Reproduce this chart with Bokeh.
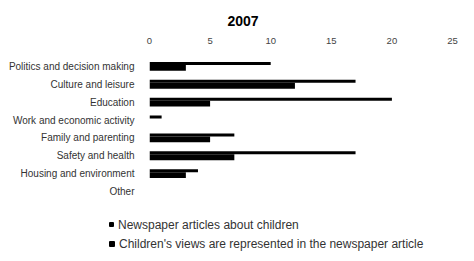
from bokeh.plotting import figure
from bokeh.models import FactorRange, Range1d, Title, Div
from bokeh.layouts import column
from bokeh.transform import dodge
from bokeh.embed import file_html
from bokeh.resources import INLINE

title_text = "2007"
categories = [
    "Politics and decision making",
    "Culture and leisure",
    "Education",
    "Work and economic activity",
    "Family and parenting",
    "Safety and health",
    "Housing and environment",
    "Other",
]
newspaper_articles = [10, 17, 20, 1, 7, 17, 4, 0]
children_views = [3, 12, 5, 0, 5, 7, 3, 0]
series_names = [
    "Newspaper articles about children",
    "Children's views are represented in the newspaper article",
]
x_ticks = [0, 5, 10, 15, 20, 25]

FONT = "Liberation Sans"
BAR = "#000000"
series_colors = [BAR, BAR]
marker_sizes = [5, 6]

src = dict(cat=categories, news=newspaper_articles, views=children_views)

# ---- main chart ----
p = figure(
    width=458, height=200,
    y_range=FactorRange(factors=list(reversed(categories)), range_padding=0),
    x_range=Range1d(0, 25),
    x_axis_location="above",
    output_backend="svg", toolbar_location=None,
    min_border_left=149, min_border_right=6,
    min_border_top=57, min_border_bottom=0,
)
p.title = None
t = Title(text=title_text, align="left", offset=78, standoff=17,
          text_font=FONT, text_font_size="14px", text_font_style="bold",
          text_color="#000000")
p.add_layout(t, "above")

p.hbar(y=dodge("cat", 0.166, range=p.y_range), right="news", left=0,
       height=0.166, fill_color=series_colors[0], line_color=None, source=src)
p.hbar(y=dodge("cat", -0.083, range=p.y_range), right="views", left=0,
       height=0.33, fill_color=series_colors[1], line_color=None, source=src)

p.xaxis.ticker = x_ticks
p.xaxis.axis_line_color = None
p.xaxis.major_tick_line_color = None
p.xaxis.minor_tick_line_color = None
p.xaxis.major_label_standoff = 8
p.xaxis.major_label_text_font = FONT
p.xaxis.major_label_text_font_size = "9.5px"
p.xaxis.major_label_text_color = "#444444"

p.yaxis.axis_line_color = None
p.yaxis.major_tick_line_color = None
p.yaxis.minor_tick_line_color = None
p.yaxis.major_label_standoff = 9
p.yaxis.major_label_text_font = FONT
p.yaxis.major_label_text_font_size = "10px"
p.yaxis.major_label_text_color = "#333333"

p.xgrid.grid_line_color = None
p.ygrid.grid_line_color = None
p.outline_line_color = None

# ---- legend below the chart ----
rows = []
for name, col, ms in zip(series_names, series_colors, marker_sizes):
    rows.append(
        '<div style="height:19px;line-height:19px;white-space:nowrap;">'
        f'<span style="display:inline-block;width:{ms}px;height:{ms}px;background:{col};'
        'vertical-align:middle;margin-right:4px;position:relative;top:-1px;'
        'border-radius:1px;"></span>'
        f'{name}</div>'
    )
legend_html = "".join(rows)
legend = Div(
    text=legend_html, width=458, height=45,
    styles={
        "font-family": "'Liberation Sans', sans-serif",
        "font-size": "12px",
        "color": "#333333",
        "padding-left": "104px",
        "padding-top": "11px",
        "box-sizing": "border-box",
    },
)

layout = column(p, legend, spacing=0)
open("out.html", "w").write(file_html(layout, INLINE))
